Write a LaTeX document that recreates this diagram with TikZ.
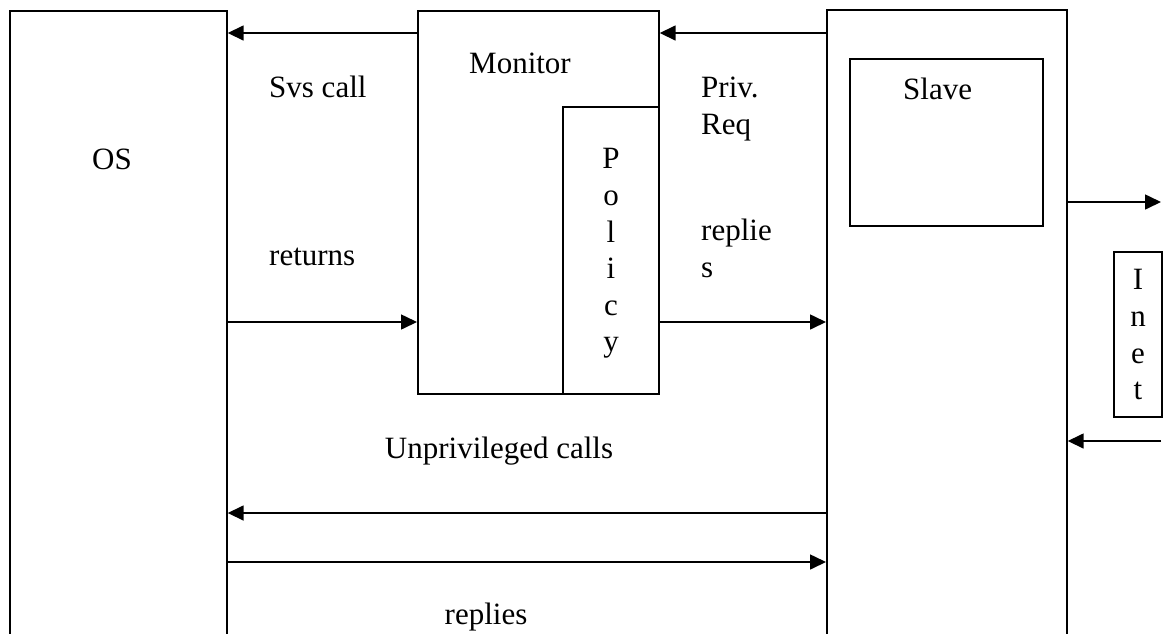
\documentclass[tikz,border=0pt]{standalone}
\usepackage{fontspec}
\setmainfont{Liberation Serif}
\usetikzlibrary{arrows.meta}
\begin{document}
\begin{tikzpicture}[x=1pt,y=-1pt,
  box/.style={draw,line width=1.7pt,inner sep=0pt,anchor=north west},
  lbl/.style={inner sep=0pt,anchor=base west,font=\fontsize{31}{37}\selectfont},
  clbl/.style={inner sep=0pt,anchor=base,font=\fontsize{31}{37}\selectfont},
  arr/.style={line width=1.6pt,-{Triangle[length=16pt,width=15pt]}}]
\useasboundingbox (0,0) rectangle (1165,633);
% boxes
\node[box,minimum width=217pt,minimum height=660pt] (os) at (9,10) {};
\node[box,minimum width=241pt,minimum height=383pt] (mon) at (417,10) {};
\node[box,minimum width=96pt,minimum height=287pt] (pol) at (562,106) {};
\node[box,minimum width=240pt,minimum height=660pt] (slv) at (826,9) {};
\node[box,minimum width=193pt,minimum height=167pt] (slvin) at (849,58) {};
\node[box,minimum width=48pt,minimum height=165pt] (inet) at (1113,251) {};
\coordinate (netout) at (1161,202);
\coordinate (netin) at (1161,441);
% labels
\node[clbl] (tos) at (112,169) {OS};
\node[lbl] (tsvs) at (269,97) {Svs call};
\node[lbl] (tret) at (269,265) {returns};
\node[lbl] (tmon) at (469,73) {Monitor};
\node[lbl] (tpriv) at (701,97) {Priv.};
\node[lbl] (treq) at (701,134) {Req};
\node[lbl] (trep1) at (701,240) {replie};
\node[lbl] (trep2) at (701,277) {s};
\node[lbl] (tslave) at (903,99) {Slave};
\node[clbl] (tunp) at (499,458) {Unprivileged calls};
\node[clbl] (trepl) at (486,624) {replies};
\foreach \ch/\yy in {P/168,o/205,l/242,i/278,c/315,y/351}
  \node[clbl] at (611,\yy) {\ch};
\foreach \ch/\yy in {I/289,n/326,e/363,t/399}
  \node[clbl] at (1138,\yy) {\ch};
% connectors
\draw[arr] (mon.west |- 0,33) -- (os.east |- 0,33);
\draw[arr] (os.east |- 0,322) -- (mon.west |- 0,322);
\draw[arr] (slv.west |- 0,33) -- (mon.east |- 0,33);
\draw[arr] (pol.east |- 0,322) -- (slv.west |- 0,322);
\draw[arr] (slv.west |- 0,513) -- (os.east |- 0,513);
\draw[arr] (os.east |- 0,562) -- (slv.west |- 0,562);
\draw[arr] (slv.east |- netout) -- (netout);
\draw[arr] (netin) -- (slv.east |- netin);
\end{tikzpicture}
\end{document}
